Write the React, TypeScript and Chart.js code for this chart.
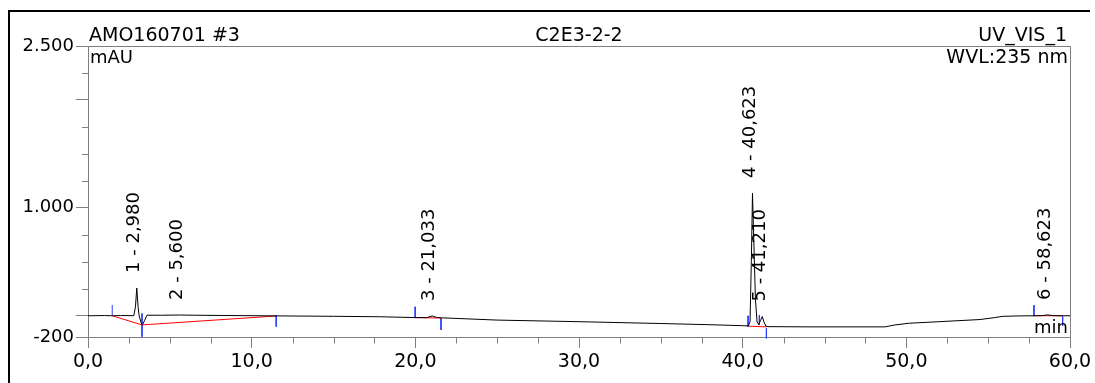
import React, { useEffect, useRef } from 'react';
import { Chart, registerables } from 'chart.js';

Chart.register(...registerables);

// ---- data ----
const traceTimes = [
  0, 1, 1.48, 2.0, 2.8, 2.9, 2.98, 3.06, 3.12, 3.25, 3.33, 3.45, 3.6, 4.5, 5.6, 6.5, 8, 11.5, 15, 17.8,
  20, 20.7, 21.03, 21.3, 21.6, 25, 30, 35, 38, 40.0, 40.35, 40.45, 40.53, 40.6, 40.68, 40.78, 40.88,
  40.98, 41.08, 41.2, 41.3, 41.42, 41.55, 44, 48.7, 49.3, 50.2, 52, 54.5, 55.4, 55.9, 57, 57.8, 58.3,
  58.62, 59.0, 59.6, 60,
];
const traceValues = [
  -3, -1, -3, -1, -2, 80, 255, 80, 0, -70, -85, -50, 2, 2, 4, 2, 0, -4, -8, -12,
  -20, -20, -5, -18, -22, -43, -58, -75, -86, -95, -97, -60, 500, 1135, 700, 150, -60,
  -85, -50, -10, -60, -100, -104, -106, -106, -88, -72, -58, -38, -20, -8, -4, -3, -2,
  5, -2, -3, -3,
];

// baseline segments (null = gap)
const baseTimes = [1.48, 3.3, 11.5, null, 19.99, 21.57, null, 40.35, 41.45, null, 57.8, 59.55];
const baseValues = [-3, -88, -5, null, -20, -24, null, -100, -106, null, -2, -3];

// peak delimiter marks
const markTimes = [1.48, 3.3, 11.5, 19.99, 21.57, 40.33, 41.02, 41.45, 57.8, 59.55];
const markFrom = [-3, 19, 4, 81, -24, -3, 4, -120, 96, -6];
const markTo = [97, -198, -105, -24, -135, -105, -89, -212, -6, -98];

// peaks
const peakTimes = [2.98, 5.6, 21.033, 40.623, 41.21, 58.623];
const peakApex = [255, 4, -5, 1135, -10, 5];
const peakLabels = ['1 - 2,980', '2 - 5,600', '3 - 21,033', '4 - 40,623', '5 - 41,210', '6 - 58,623'];

// axes
const xTickValues = [0, 10, 20, 30, 40, 50, 60];
const xTickLabels = ['0,0', '10,0', '20,0', '30,0', '40,0', '50,0', '60,0'];
const xMinorTicks = [2.5, 5, 7.5, 12.5, 15, 17.5, 22.5, 25, 27.5, 32.5, 35, 37.5, 42.5, 45, 47.5, 52.5, 55, 57.5];
const yTickValues = [-200, 0, 1000, 2000, 2500];
const yTickLabels = ['-200', '', '1.000', '', '2.500'];
const yMinorTicks = [250, 500, 750, 1250, 1500, 1750, 2250];

const headerLeft = 'AMO160701 #3';
const headerCenter = 'C2E3-2-2';
const headerRight = 'UV_VIS_1';
const unitLeft = 'mAU';
const unitRight = 'WVL:235 nm';
const xUnit = 'min';

const FAMILY = "'DejaVu Sans', sans-serif";
const FONT = `18px ${FAMILY}`;
const HEAD_FONT = `19px ${FAMILY}`;
const GRAY = '#7f7f7f';

const overlay = {
  id: 'overlay',
  afterDraw(chart: any) {
    const { ctx, chartArea: a, scales } = chart;
    const xs = scales.x;
    const ys = scales.y;
    ctx.save();
    ctx.strokeStyle = GRAY;
    ctx.lineWidth = 1;
    // top and right frame
    ctx.beginPath();
    ctx.moveTo(a.left, Math.round(a.top) + 0.5);
    ctx.lineTo(Math.round(a.right) + 0.5, Math.round(a.top) + 0.5);
    ctx.lineTo(Math.round(a.right) + 0.5, a.bottom);
    ctx.stroke();
    // minor ticks
    ctx.beginPath();
    xMinorTicks.forEach((t) => {
      const px = Math.round(xs.getPixelForValue(t)) + 0.5;
      ctx.moveTo(px, a.bottom);
      ctx.lineTo(px, a.bottom + 6.5);
    });
    yMinorTicks.forEach((v) => {
      const py = Math.round(ys.getPixelForValue(v)) + 0.5;
      ctx.moveTo(a.left - 6, py);
      ctx.lineTo(a.left + 0.5, py);
    });
    ctx.stroke();

    // texts
    ctx.fillStyle = '#000';
    ctx.font = HEAD_FONT;
    ctx.textBaseline = 'alphabetic';
    ctx.textAlign = 'left';
    ctx.fillText(headerLeft, a.left + 1, a.top - 5);
    ctx.textAlign = 'center';
    ctx.fillText(headerCenter, (a.left + a.right) / 2, a.top - 5);
    ctx.textAlign = 'right';
    ctx.fillText(headerRight, a.right - 3, a.top - 5);
    ctx.fillText(unitRight, a.right - 2, a.top + 17);
    ctx.font = FONT;
    ctx.textAlign = 'left';
    ctx.fillText(unitLeft, a.left + 2, a.top + 17);
    ctx.textAlign = 'right';
    ctx.fillText(xUnit, a.right - 2, a.bottom - 4);

    // peak labels
    ctx.textAlign = 'left';
    ctx.textBaseline = 'middle';
    peakTimes.forEach((t, i) => {
      const px = xs.getPixelForValue(t) - 2.5;
      const py = ys.getPixelForValue(peakApex[i]) - 15;
      ctx.save();
      ctx.translate(px, py);
      ctx.rotate(-Math.PI / 2);
      ctx.fillText(peakLabels[i], 0, 0);
      ctx.restore();
    });
    ctx.restore();
  },
};

export default function App() {
  const ref = useRef<HTMLCanvasElement>(null);

  useEffect(() => {
    if (!ref.current) return;
    const trace = traceTimes.map((t, i) => ({ x: t, y: traceValues[i] }));
    const base = baseTimes.map((t, i) => ({ x: t === null ? 0 : t, y: baseValues[i] }));
    const marks: any[] = [];
    markTimes.forEach((t, i) => {
      marks.push({ x: t, y: markFrom[i] });
      marks.push({ x: t, y: markTo[i] });
      marks.push({ x: t, y: null });
    });

    const chart = new Chart(ref.current, {
      type: 'line',
      data: {
        datasets: [
          { data: trace, borderColor: '#000000', borderWidth: 1, pointRadius: 0, tension: 0 },
          { data: base as any, borderColor: '#ff0000', borderWidth: 1, pointRadius: 0, tension: 0, spanGaps: false },
          { data: marks, borderColor: '#2a3cff', borderWidth: 1, pointRadius: 0, tension: 0, spanGaps: false, clip: false as any },
        ],
      },
      options: {
        responsive: false,
        animation: false,
        events: [],
        layout: { padding: { top: 46, right: 25, left: 0, bottom: 0 } },
        plugins: { legend: { display: false }, tooltip: { enabled: false }, title: { display: false } },
        scales: {
          x: {
            type: 'linear',
            min: 0,
            max: 60,
            afterFit: (s: any) => { s.height = 46; },
            afterBuildTicks: (s: any) => { s.ticks = xTickValues.map((v) => ({ value: v })); },
            ticks: {
              autoSkip: false,
              maxRotation: 0,
              padding: 3,
              color: '#000',
              font: { family: FAMILY, size: 19 },
              callback: (v: any) => xTickLabels[xTickValues.indexOf(Number(v))],
            },
            grid: { drawOnChartArea: false, drawTicks: true, tickLength: 11, color: GRAY },
            border: { display: true, color: GRAY, width: 1 },
          },
          y: {
            type: 'linear',
            min: -200,
            max: 2500,
            afterFit: (s: any) => { s.width = 88; },
            afterBuildTicks: (s: any) => { s.ticks = yTickValues.map((v) => ({ value: v })); },
            ticks: {
              autoSkip: false,
              padding: 2,
              color: '#000',
              font: { family: FAMILY, size: 18 },
              callback: (v: any) => yTickLabels[yTickValues.indexOf(Number(v))],
            },
            grid: { drawOnChartArea: false, drawTicks: true, tickLength: 12, color: GRAY },
            border: { display: true, color: GRAY, width: 1 },
          },
        },
      },
      plugins: [overlay],
    });
    return () => chart.destroy();
  }, []);

  return (
    <div>
      <div
        style={{
          position: 'absolute',
          left: 8,
          top: 10,
          width: 1082,
          height: 373,
          boxSizing: 'border-box',
          borderTop: '2px solid #000',
          borderLeft: '2px solid #000',
        }}
      />
      <canvas
        ref={ref}
        width={1095}
        height={383}
        style={{ position: 'absolute', left: 0, top: 0, width: 1095, height: 383 }}
      />
    </div>
  );
}
